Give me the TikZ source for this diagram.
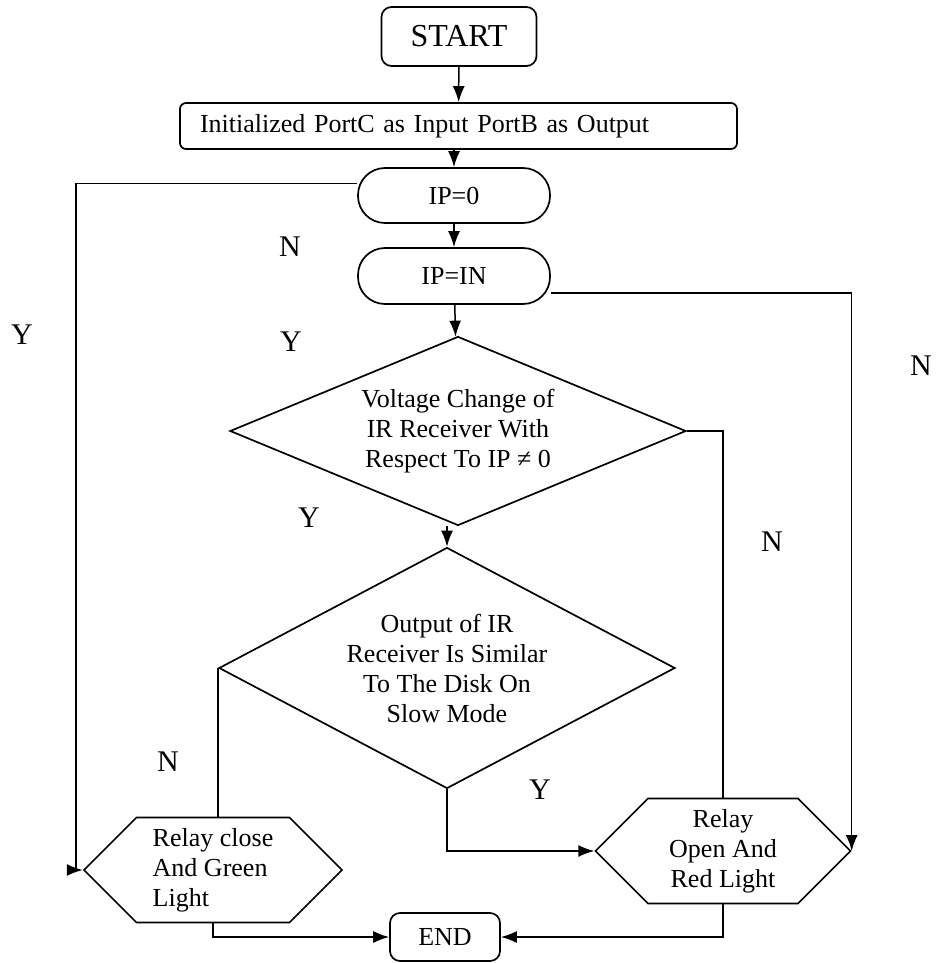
\documentclass[tikz,border=0pt]{standalone}
\usepackage{fontspec}
\setmainfont{Liberation Serif}
\usetikzlibrary{arrows.meta, shapes.geometric, shapes.symbols}

\begin{document}
\begin{tikzpicture}[x=1pt, y=-1pt, >={Latex[length=16pt,width=12pt]}, line width=1.5pt,
	box/.style={draw, line width=1.7pt, font=\fontsize{26pt}{30pt}\selectfont, align=center},
	termbox/.style={box, rectangle, rounded corners=10pt},
	procbox/.style={box, rectangle, rounded corners=27pt, minimum width=192pt, minimum height=55pt},
	decbox/.style={box, diamond, inner sep=0pt, minimum width=456pt},
	hexbox/.style={box, signal, signal to=west and east, signal pointer angle=90, minimum width=258pt, minimum height=105pt, inner sep=0pt},
	lbl/.style={font=\fontsize{30pt}{34pt}\selectfont}]
	\useasboundingbox (0,0) rectangle (935,963);
	\node[termbox, minimum width=155pt, minimum height=59pt, font=\fontsize{32pt}{36pt}\selectfont] (start) at (459,36.5) {START};
	\node[box, rectangle, rounded corners=6pt, text width=517pt, inner xsep=20pt, minimum height=46pt, align=left] (init) at (458.5,126) {Initialized PortC as Input PortB as Output};
	\node[procbox] (ip_zero) at (454,195.5) {IP=0};
	\node[procbox, minimum height=56pt] (ip_in) at (454,276) {IP=IN};
	\node[decbox, aspect=2.41, minimum height=189pt] (volt_dec) at (458,431) {Voltage Change of\\IR Receiver With\\Respect To IP ≠ 0};
	\node[decbox, aspect=1.89, minimum height=241pt] (out_dec) at (447,668) {Output of IR\\Receiver Is Similar\\To The Disk On\\Slow Mode};
	\node[hexbox, align=left] (relay_close) at (213,870) {Relay close\\And Green\\Light};
	\node[hexbox, minimum width=255pt] (relay_open) at (723,851) {Relay\\Open And\\Red Light};
	\node[termbox, minimum width=110pt, minimum height=48pt] (end) at (445,937) {END};
	\coordinate (left_bus) at (76,0);
	\node[lbl] (n_ip_zero) at (290,247) {N};
	\node[lbl] (y_ip_zero) at (22,335) {Y};
	\node[lbl] (y_ip_in) at (291,342) {Y};
	\node[lbl] (n_ip_in) at (921,366) {N};
	\node[lbl] (y_volt) at (309,518) {Y};
	\node[lbl] (n_volt) at (772,542) {N};
	\node[lbl] (n_out) at (168,762) {N};
	\node[lbl] (y_out) at (540,790) {Y};
	\draw[->] (start) -- (init);
	\draw[->] (init.south -| ip_zero) -- (ip_zero);
	\draw[->] (ip_zero) -- (ip_in);
	\draw[->] (ip_in) -- (volt_dec);
	\draw[->] (volt_dec.south -| out_dec.north) -- (out_dec.north);
	\draw[->] (ip_zero.173) -| (left_bus |- relay_close.west) -- (relay_close.west);
	\draw[->] (ip_in.-10) -| (relay_open.east);
	\draw (volt_dec.east) -| (relay_open.north);
	\draw (out_dec.west) -- (out_dec.west |- relay_close.north);
	\draw[->] (out_dec.south) |- (relay_open.west);
	\draw[->] (relay_close.south) |- (end.west);
	\draw[->] (relay_open.south) |- (end.east);
\end{tikzpicture}
\end{document}
